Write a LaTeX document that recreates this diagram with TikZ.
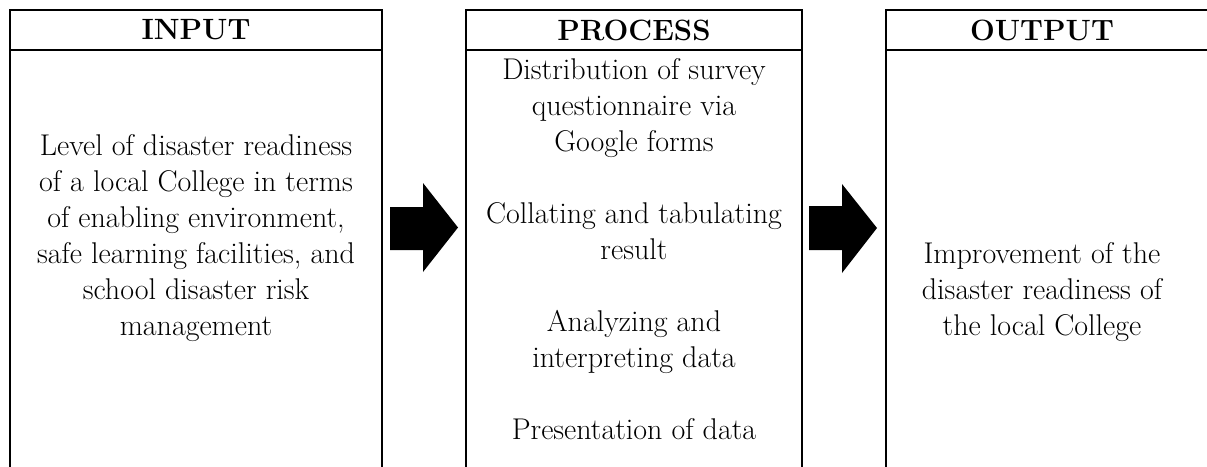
\documentclass[tikz,border=0pt]{standalone}
\usepackage{tikz}
\usetikzlibrary{positioning}

\tikzset{
    frame/.style={line width=2pt},
    head/.style={font=\fontsize{22}{27}\selectfont\bfseries},
    body/.style={font=\fontsize{22.5}{27}\selectfont, align=center},
    blockarrow/.style={fill=black}
}

\begin{document}
\begin{tikzpicture}[x=0.75pt, y=-0.75pt]
    \useasboundingbox (0,0) rectangle (1207,467);

    % three columns, open at the bottom
    \draw[frame] (10,475) |- (382,10) -- (382,475);
    \draw[frame] (10,50) -- (382,50);
    \draw[frame] (466,475) |- (802,10) -- (802,475);
    \draw[frame] (466,50) -- (802,50);
    \draw[frame] (886,475) |- (1215,10);
    \draw[frame] (886,50) -- (1215,50);

    \node[head] (inhead) at (196,30) {INPUT};
    \node[head] (prochead) at (634,30) {PROCESS};
    \node[head] (outhead) at (1042,30) {OUTPUT};

    \node[body] (inbody) at (196,238) {Level of disaster readiness\\
        of a local College in terms\\ of enabling environment,\\
        safe learning facilities, and\\ school disaster risk\\ management};
    \node[body] (procbody) at (634,249) {Distribution of survey\\
        questionnaire via\\ Google forms\\[\baselineskip]
        Collating and tabulating\\ result\\[\baselineskip]
        Analyzing and\\ interpreting data\\[\baselineskip]
        Presentation of data};
    \node[body] (outbody) at (1042,292) {Improvement of the\\
        disaster readiness of\\ the local College};

    % block arrows between the columns
    \fill[blockarrow] (390,207) -- (423,207) -- (423,183) -- (458,227.5)
        -- (423,272) -- (423,250) -- (390,250) -- cycle;
    \fill[blockarrow] (809,206) -- (842,206) -- (842,184) -- (877,228)
        -- (842,273) -- (842,250) -- (809,250) -- cycle;
\end{tikzpicture}
\end{document}
